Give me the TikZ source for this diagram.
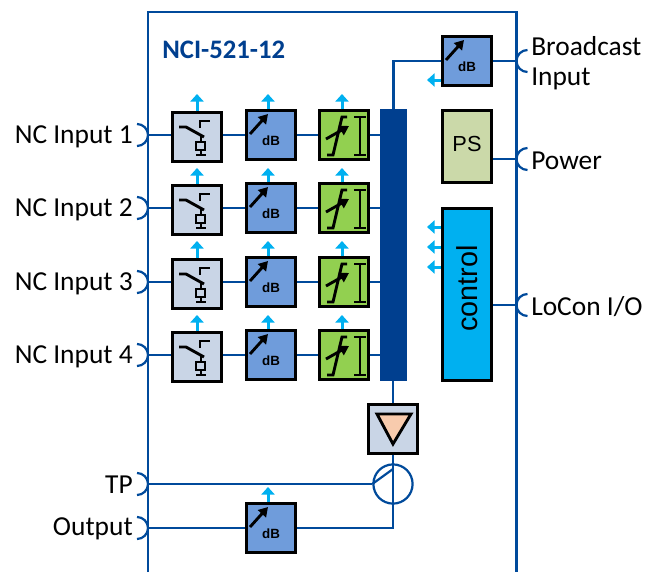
\documentclass[tikz,border=0pt]{standalone}
\usepackage{fontspec}
\usepackage{xcolor}
\setmainfont{Carlito}
\newfontfamily\arialfont{Liberation Sans}
\usetikzlibrary{arrows.meta}
\definecolor{wireblue}{HTML}{004A9B}
\definecolor{busblue}{HTML}{003F8F}
\definecolor{skyblue}{HTML}{00B0F0}
\definecolor{swgrey}{HTML}{C9D5E6}
\definecolor{dbblue}{HTML}{6F9CDB}
\definecolor{limgreen}{HTML}{92D050}
\definecolor{psgreen}{HTML}{CBD9A9}
\definecolor{ampfill}{HTML}{F8CBAD}
\tikzset{
    wire/.style={draw=wireblue, line width=0.55mm},
    sig/.style={color=skyblue, line width=0.75mm, >={Triangle[length=5.5pt,width=9.5pt]}},
    glyph/.style={draw=black, line width=0.72mm},
    block/.style={draw=black, line width=0.7mm, rectangle, inner sep=0pt, minimum size=12.1mm},
    swbox/.style={block, fill=swgrey, path picture={
        \begin{scope}[shift={(path picture bounding box.center)}]
            \draw[glyph] (-18,-10) -- (-11,-10) -- (7,0);
            \draw[glyph] (3,-9) -- (3,-16) -- (13,-16);
            \draw[glyph] (4,-1) -- (4,5) (-1,5) rectangle (8,13) (4,13) -- (4,18) (-1,18) -- (9,18);
        \end{scope}}},
    dbbox/.style={block, fill=dbblue, path picture={
        \begin{scope}[shift={(path picture bounding box.center)}]
            \draw[glyph, -{Triangle[length=6.5pt,width=7.5pt]}] (-21,-1) -- (-3,-21);
            \node[font=\arialfont\bfseries\fontsize{9.5}{10}\selectfont] at (0,6) {dB};
        \end{scope}}},
    limbox/.style={block, fill=limgreen, path picture={
        \begin{scope}[shift={(path picture bounding box.center)}]
            \draw[glyph] (-17,20) -- (-11,20) -- (-2,-18) -- (3,-18);
            \draw[glyph, -{Triangle[length=6.5pt,width=7.5pt]}] (-18,4) -- (5,-9);
            \draw[glyph] (16,-18) -- (16,20) (10,-18) -- (22,-18) (10,20) -- (22,20);
        \end{scope}}},
    ampbox/.style={block, fill=swgrey, path picture={
        \begin{scope}[shift={(path picture bounding box.center)}]
            \draw[glyph, fill=ampfill] (-16,-15) -- (18,-15) -- (0,15) -- cycle;
        \end{scope}}},
    lab/.style={font=\fontsize{19.5}{22}\selectfont, inner sep=0pt}
}

\begin{document}
\begin{tikzpicture}[x=0.25mm, y=-0.25mm]
                \useasboundingbox (0,0) rectangle (659,572);
                \draw[wire] (148,572) -- (148,12) -- (516.5,12) -- (516.5,572);
                \node[font=\bfseries\fontsize{19}{22}\selectfont, text=busblue, inner sep=0pt, anchor=west] at (162,50) (title) {NCI-521-12};
                \node[lab, anchor=east] at (133,137) (l1) {NC Input 1};
                \node[lab, anchor=east] at (133,210) (l2) {NC Input 2};
                \node[lab, anchor=east] at (133,284) (l3) {NC Input 3};
                \node[lab, anchor=east] at (133,357) (l4) {NC Input 4};
                \node[lab, anchor=east] at (133,485) (l5) {TP};
                \node[lab, anchor=east] at (133,529) (l6) {Output};
                \node[lab, anchor=west] at (531,46) (r1) {Broadcast};
                \node[lab, anchor=west] at (531,79) (r2) {Input};
                \node[lab, anchor=west] at (531,161) (r3) {Power};
                \node[lab, anchor=west] at (531,307) (r4) {LoCon I/O};
                \coordinate (p1) at (148,135);
                \coordinate (p2) at (148,208);
                \coordinate (p3) at (148,282);
                \coordinate (p4) at (148,355);
                \coordinate (p5) at (148,484);
                \coordinate (p6) at (148,528);
                \coordinate (q1) at (516.5,61);
                \coordinate (q2) at (516.5,159);
                \coordinate (q3) at (516.5,305);
                \draw[wire] (p1) ++(-11,11) arc[start angle=90, end angle=-90, radius=11];
                \draw[wire] (p2) ++(-11,11) arc[start angle=90, end angle=-90, radius=11];
                \draw[wire] (p3) ++(-11,11) arc[start angle=90, end angle=-90, radius=11];
                \draw[wire] (p4) ++(-11,11) arc[start angle=90, end angle=-90, radius=11];
                \draw[wire] (p5) ++(-11,11) arc[start angle=90, end angle=-90, radius=11];
                \draw[wire] (p6) ++(-11,11) arc[start angle=90, end angle=-90, radius=11];
                \draw[wire] (q1) ++(11,11) arc[start angle=90, end angle=270, radius=11];
                \draw[wire] (q2) ++(11,11) arc[start angle=90, end angle=270, radius=11];
                \draw[wire] (q3) ++(11,11) arc[start angle=90, end angle=270, radius=11];
                \node[swbox] at (197,137) (sw1) {};
                \node[swbox] at (197,210) (sw2) {};
                \node[swbox] at (197,284) (sw3) {};
                \node[swbox] at (197,357) (sw4) {};
                \node[dbbox] at (271,135) (db1) {};
                \node[dbbox] at (271,208) (db2) {};
                \node[dbbox] at (271,282) (db3) {};
                \node[dbbox] at (271,355) (db4) {};
                \node[dbbox] at (271,528) (db5) {};
                \node[dbbox] at (467,61) (db6) {};
                \node[limbox] at (344,135) (lim1) {};
                \node[limbox] at (344,208) (lim2) {};
                \node[limbox] at (344,282) (lim3) {};
                \node[limbox] at (344,355) (lim4) {};
                \node[fill=busblue, inner sep=0pt, minimum width=6.75mm, minimum height=68mm] at (393.5,245) (bus) {};
                \node[ampbox] at (393,429) (amp) {};
                \node[draw=wireblue, line width=0.55mm, circle, inner sep=0pt, minimum size=9.8mm] at (393,484) (mix) {};
                \node[block, fill=psgreen, minimum height=18mm, font=\arialfont\fontsize{15.5}{18}\selectfont] at (467,146.5) (ps) {\raisebox{1.2mm}{PS}};
                \node[block, fill=skyblue, minimum height=43mm, font=\arialfont\fontsize{20.5}{24}\selectfont] at (467,294.5) (ctrl) {\rotatebox{90}{\hspace{8.5pt}control}};
                \coordinate (u1) at (197,94);
                \coordinate (u2) at (197,168);
                \coordinate (u3) at (197,241);
                \coordinate (u4) at (197,315);
                \coordinate (v1) at (268,94);
                \coordinate (v2) at (268,168);
                \coordinate (v3) at (268,241);
                \coordinate (v4) at (268,315);
                \coordinate (v5) at (268,487);
                \coordinate (w1) at (342,94);
                \coordinate (w2) at (342,168);
                \coordinate (w3) at (342,241);
                \coordinate (w4) at (342,315);
                \coordinate (t1) at (427,80);
                \coordinate (t2) at (427,227);
                \coordinate (t3) at (427,247);
                \coordinate (t4) at (427,267);
                \coordinate (tap) at (393,469);
                \path[wire]
                    (p1) edge (p1 -| sw1.west)
                    (p2) edge (p2 -| sw2.west)
                    (p3) edge (p3 -| sw3.west)
                    (p4) edge (p4 -| sw4.west)
                    (p1 -| sw1.east) edge (db1)
                    (p2 -| sw2.east) edge (db2)
                    (p3 -| sw3.east) edge (db3)
                    (p4 -| sw4.east) edge (db4)
                    (db1) edge (lim1)
                    (db2) edge (lim2)
                    (db3) edge (lim3)
                    (db4) edge (lim4)
                    (lim1) edge (lim1 -| bus.west)
                    (lim2) edge (lim2 -| bus.west)
                    (lim3) edge (lim3 -| bus.west)
                    (lim4) edge (lim4 -| bus.west)
                    (q1) edge (db6)
                    (q2) edge (q2 -| ps.east)
                    (q3) edge (q3 -| ctrl.east)
                    (bus.south -| amp) edge (amp)
                    (p5) edge (mix)
                    (p6) edge (db5)
                    (mix.west) edge (tap);
                \draw[wire] (db6) -| (bus);
                \draw[wire] (amp) |- (db5);
                \path[->, sig]
                    (u1 |- sw1.north) edge (u1)
                    (u2 |- sw2.north) edge (u2)
                    (u3 |- sw3.north) edge (u3)
                    (u4 |- sw4.north) edge (u4)
                    (v1 |- db1.north) edge (v1)
                    (v2 |- db2.north) edge (v2)
                    (v3 |- db3.north) edge (v3)
                    (v4 |- db4.north) edge (v4)
                    (v5 |- db5.north) edge (v5)
                    (w1 |- lim1.north) edge (w1)
                    (w2 |- lim2.north) edge (w2)
                    (w3 |- lim3.north) edge (w3)
                    (w4 |- lim4.north) edge (w4)
                    (t1 -| db6.west) edge (t1)
                    (t2 -| ctrl.west) edge (t2)
                    (t3 -| ctrl.west) edge (t3)
                    (t4 -| ctrl.west) edge (t4);
            \end{tikzpicture}
\end{document}
